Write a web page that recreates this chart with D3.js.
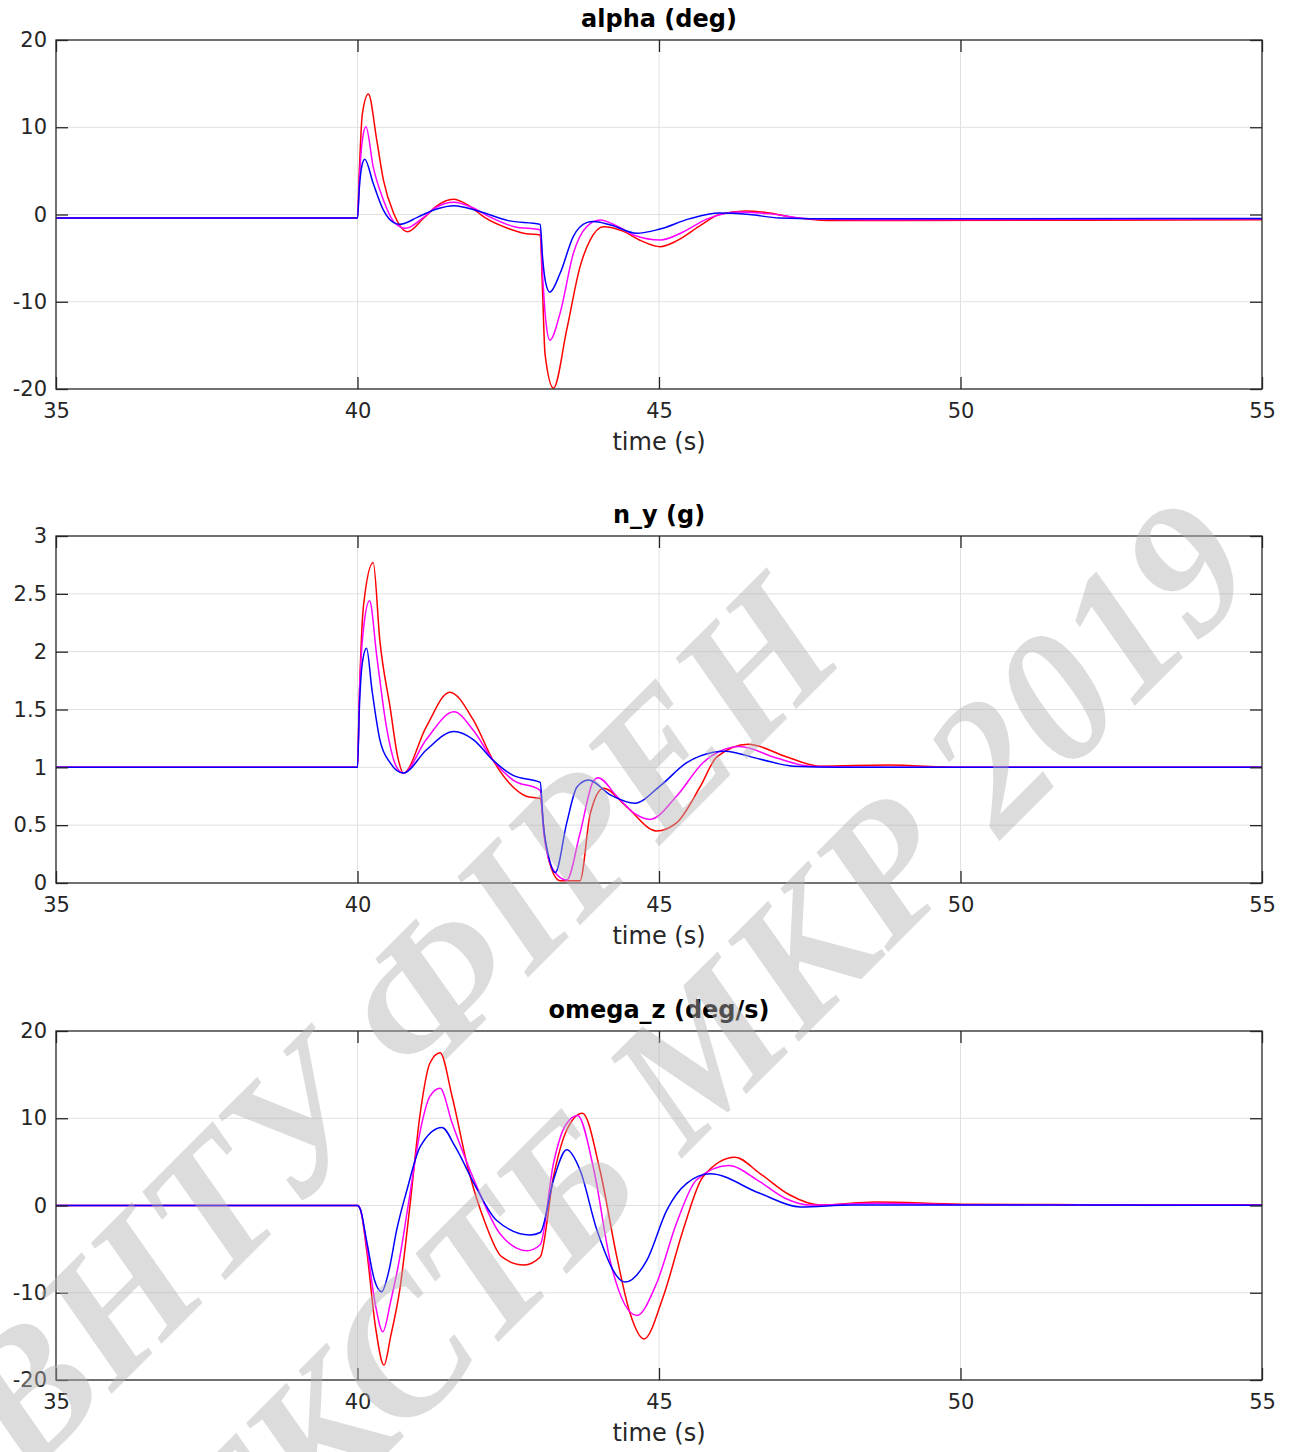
<!DOCTYPE html>
<html lang="en">
<head>
<meta charset="utf-8">
<title>alpha / n_y / omega_z responses</title>
<script src="https://d3js.org/d3.v7.min.js"></script>
<style>
  body { margin: 0; background: #fff; }
  svg { display: block; font-family: "DejaVu Sans", sans-serif; }
</style>
</head>
<body>
<svg id="chart" width="1294" height="1452"></svg>
<script>
// ---- data: [time s, value] ----
const timeTicks = [35, 40, 45, 50, 55];
const alphaTicks = [-20, -10, 0, 10, 20];
const nyTicks = [0, 0.5, 1, 1.5, 2, 2.5, 3];
const omegaTicks = [-20, -10, 0, 10, 20];
const seriesColors = ["#ff0000", "#ff00ff", "#0000ff"];
const watermarkLines = ["ВНТУ ФІРЕН", "ТКСТБ МКР 2019"];

const alphaRed = [[35,-0.4],[40,-0.4],[40.03,5],[40.08,11.5],[40.18,13.8],[40.32,8.5],[40.43,3.95],[40.6,0.14],[40.83,-1.97],[41.1,-0.4],[41.3,0.9],[41.59,1.74],[41.85,1.0],[42.1,-0.3],[42.5,-1.6],[42.8,-2.2],[43.03,-2.35],[43.07,-9],[43.11,-16],[43.25,-19.9],[43.47,-13.2],[43.69,-6],[43.86,-2.9],[44.08,-1.4],[44.4,-1.9],[44.7,-3.0],[45.02,-3.69],[45.3,-3.0],[45.7,-1.2],[46.0,0.0],[46.43,0.4],[46.8,0.2],[47.2,-0.3],[47.8,-0.7],[49,-0.7],[52,-0.65],[55,-0.6]];
const alphaMag = [[35,-0.4],[40,-0.4],[40.03,4],[40.08,8.5],[40.14,10.07],[40.26,5.48],[40.43,1.66],[40.6,-0.82],[40.8,-1.58],[41.1,-0.3],[41.3,0.8],[41.6,1.4],[41.9,0.8],[42.2,-0.3],[42.6,-1.4],[43.03,-1.77],[43.07,-7],[43.12,-12],[43.19,-14.4],[43.36,-11.3],[43.58,-4.45],[43.8,-1.4],[44.02,-0.63],[44.3,-1.3],[44.6,-2.4],[45.02,-2.92],[45.4,-2.0],[45.8,-0.5],[46.3,0.3],[46.8,0.1],[47.5,-0.5],[48.5,-0.6],[55,-0.5]];
const alphaBlue = [[35,-0.4],[40,-0.4],[40.03,3],[40.07,5.5],[40.12,6.33],[40.26,3.57],[40.43,0.5],[40.6,-0.94],[40.7,-1.13],[41.0,-0.3],[41.3,0.6],[41.6,1.0],[42.0,0.4],[42.5,-0.7],[43.03,-1.13],[43.07,-5],[43.12,-7.8],[43.19,-8.9],[43.36,-6.74],[43.58,-2.5],[43.8,-0.93],[43.91,-0.8],[44.2,-1.2],[44.63,-2.15],[45.0,-1.7],[45.5,-0.5],[46.0,0.17],[46.5,0.0],[47.0,-0.4],[48,-0.5],[55,-0.45]];

const nyRed = [[35,1],[40,1],[40.03,1.6],[40.1,2.4],[40.26,2.77],[40.37,2.1],[40.54,1.52],[40.68,1.06],[40.76,0.95],[41.14,1.35],[41.53,1.65],[41.92,1.41],[42.25,1.06],[42.58,0.83],[42.8,0.75],[43.03,0.73],[43.11,0.37],[43.25,0.08],[43.36,0.02],[43.69,0.02],[43.86,0.6],[44.08,0.82],[44.46,0.66],[44.96,0.45],[45.29,0.52],[45.68,0.83],[45.96,1.09],[46.48,1.2],[47.12,1.09],[47.67,1.01],[48.8,1.02],[50,1.0],[55,1.0]];
const nyMag = [[35,1],[40,1],[40.03,1.6],[40.1,2.2],[40.2,2.44],[40.32,1.96],[40.48,1.35],[40.65,1.0],[40.76,0.95],[41.14,1.24],[41.6,1.48],[41.92,1.32],[42.25,1.06],[42.58,0.89],[43.03,0.8],[43.09,0.43],[43.25,0.11],[43.47,0.025],[43.69,0.43],[43.91,0.88],[43.99,0.91],[44.3,0.75],[44.6,0.6],[44.85,0.55],[45.29,0.75],[45.73,1.04],[46.01,1.14],[46.34,1.18],[46.95,1.08],[47.5,1.01],[48.5,1.0],[55,1]];
const nyBlue = [[35,1],[40,1],[40.03,1.5],[40.08,1.9],[40.15,2.03],[40.24,1.67],[40.37,1.24],[40.54,1.04],[40.76,0.95],[41.14,1.15],[41.6,1.31],[41.92,1.24],[42.25,1.06],[42.58,0.93],[43.03,0.87],[43.08,0.52],[43.17,0.23],[43.28,0.09],[43.47,0.52],[43.64,0.83],[43.83,0.89],[44.2,0.76],[44.6,0.69],[45.02,0.84],[45.46,1.04],[45.9,1.13],[46.09,1.14],[46.68,1.07],[47.23,1.01],[48,1.0],[55,1]];

const omegaRed = [[35,0],[40,0],[40.05,-0.5],[40.15,-5],[40.3,-14],[40.44,-18.3],[40.55,-15],[40.7,-9.7],[40.87,0],[41.04,10.56],[41.2,16.3],[41.37,17.51],[41.57,12.47],[41.84,4.07],[42.12,-2.04],[42.39,-5.87],[42.76,-6.82],[43.03,-5.9],[43.25,3.3],[43.47,8.65],[43.73,10.58],[44.02,4.07],[44.3,-5.87],[44.52,-12.36],[44.75,-15.3],[45.07,-10.45],[45.4,-2.8],[45.73,3.3],[46.26,5.54],[46.67,3.69],[47.17,1.2],[47.67,0.05],[48.6,0.4],[50,0.15],[52,0.1],[55,0.05]];
const omegaMag = [[35,0],[40,0],[40.05,-0.5],[40.15,-4.5],[40.3,-11.5],[40.42,-14.47],[40.55,-11],[40.7,-6.0],[40.84,0],[41.04,8.54],[41.2,12.5],[41.37,13.43],[41.57,9.42],[41.98,2.15],[42.36,-3.2],[42.81,-5.18],[43.03,-4.5],[43.25,4.83],[43.45,9.2],[43.65,10.31],[43.92,4.07],[44.2,-6.63],[44.63,-12.6],[44.96,-8.92],[45.29,-2.04],[45.62,2.92],[46.15,4.59],[46.67,2.73],[47.1,0.8],[47.5,0.05],[48.6,0.25],[50,0.1],[55,0.05]];
const omegaBlue = [[35,0],[40,0],[40.05,-0.5],[40.15,-4],[40.28,-8.5],[40.4,-9.88],[40.52,-7.5],[40.65,-2.8],[40.82,1.78],[41.04,6.74],[41.4,8.95],[41.62,6.74],[41.96,2.15],[42.3,-1.66],[42.86,-3.38],[43.03,-3.1],[43.25,2.92],[43.47,6.38],[43.69,4.07],[43.97,-2.8],[44.44,-8.78],[44.8,-6.25],[45.13,-0.52],[45.46,2.54],[45.85,3.63],[46.67,1.4],[47.34,-0.17],[48.2,0.05],[50,0.05],[55,0.02]];

// ---- layout ----
const svg = d3.select("#chart");
const left = 56, right = 1262, tickLen = 12;
const x = d3.scaleLinear().domain([35, 55]).range([left, right]);

function drawPanel(top, bottom, title, yDomain, yTicks, series) {
  const y = d3.scaleLinear().domain(yDomain).range([bottom, top]);
  const g = svg.append("g");
  const h = bottom - top, w = right - left;

  // grid
  g.append("g").selectAll("line").data(timeTicks.slice(1, -1)).join("line")
    .attr("x1", d => x(d)).attr("x2", d => x(d)).attr("y1", top).attr("y2", bottom)
    .attr("stroke", "#e0e0e0").attr("stroke-width", 1);
  g.append("g").selectAll("line").data(yTicks.slice(1, -1)).join("line")
    .attr("x1", left).attr("x2", right).attr("y1", d => y(d)).attr("y2", d => y(d))
    .attr("stroke", "#e0e0e0").attr("stroke-width", 1);

  // curves
  const line = d3.line().x(d => x(d[0])).y(d => y(d[1])).curve(d3.curveMonotoneX);
  g.append("g").selectAll("path").data(series).join("path")
    .attr("d", line)
    .attr("fill", "none")
    .attr("stroke", (d, i) => seriesColors[i])
    .attr("stroke-width", 1.5);

  // axes: inward ticks on all four sides
  const axB = g.append("g").attr("transform", `translate(0,${bottom})`)
    .call(d3.axisBottom(x).tickValues(timeTicks).tickSize(-tickLen));
  const axT = g.append("g").attr("transform", `translate(0,${top})`)
    .call(d3.axisTop(x).tickValues(timeTicks).tickSize(-tickLen).tickFormat(""));
  const axL = g.append("g").attr("transform", `translate(${left},0)`)
    .call(d3.axisLeft(y).tickValues(yTicks).tickSize(-tickLen).tickFormat(d => String(d)));
  const axR = g.append("g").attr("transform", `translate(${right},0)`)
    .call(d3.axisRight(y).tickValues(yTicks).tickSize(-tickLen).tickFormat(""));
  [axB, axT, axL, axR].forEach(a => {
    a.select(".domain").remove();
    a.selectAll(".tick line").attr("stroke", "#262626").attr("stroke-width", 1.3);
    a.selectAll("text").attr("font-size", 21).attr("fill", "#262626")
      .attr("font-family", "DejaVu Sans, sans-serif");
  });
  axB.selectAll("text").attr("y", 14).attr("dy", "0.71em");
  axL.selectAll("text").attr("x", -9);

  // box
  g.append("rect").attr("x", left).attr("y", top).attr("width", w).attr("height", h)
    .attr("fill", "none").attr("stroke", "#262626").attr("stroke-width", 1.3);

  g.append("text").attr("x", (left + right) / 2).attr("y", top - 13)
    .attr("text-anchor", "middle").attr("font-size", 24).attr("font-weight", "bold")
    .attr("fill", "#000").text(title);
  g.append("text").attr("x", (left + right) / 2).attr("y", bottom + 61)
    .attr("text-anchor", "middle").attr("font-size", 24).attr("fill", "#262626")
    .text("time (s)");
}

drawPanel(40, 389, "alpha (deg)", [-20, 20], alphaTicks, [alphaRed, alphaMag, alphaBlue]);
drawPanel(536, 883, "n_y (g)", [0, 3], nyTicks, [nyRed, nyMag, nyBlue]);
drawPanel(1031, 1380, "omega_z (deg/s)", [-20, 20], omegaTicks, [omegaRed, omegaMag, omegaBlue]);

// watermark over everything
const wm = svg.append("g").attr("pointer-events", "none");
const wmCenters = [[393, 1024], [706, 1046]];
wm.selectAll("text").data(watermarkLines).join("text")
  .attr("transform", (d, i) => `translate(${wmCenters[i][0]},${wmCenters[i][1]}) rotate(-45)`)
  .attr("text-anchor", "middle")
  .attr("dominant-baseline", "central")
  .attr("font-family", "Liberation Serif, serif")
  .attr("font-style", "italic").attr("font-weight", "bold")
  .attr("font-size", 185)
  .attr("fill", "#b1b1b1").attr("fill-opacity", 0.45)
  .text(d => d);
</script>
</body>
</html>
